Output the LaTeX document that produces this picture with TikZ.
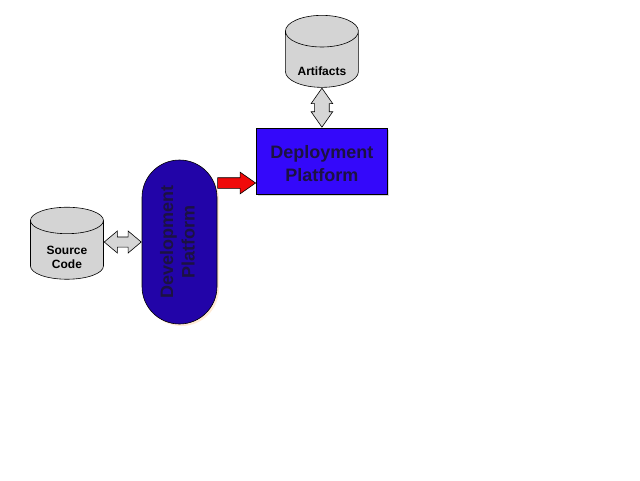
\documentclass[tikz,border=0pt]{standalone}
\usepackage{fontspec}
\setmainfont{Liberation Sans}
\usepackage{xcolor}
\usepackage{tikz}
\usetikzlibrary{shapes.geometric, shapes.arrows, positioning, shadows}
\definecolor{devblue}{RGB}{34, 4, 168}
\definecolor{deployblue}{RGB}{52, 8, 250}
\definecolor{textnavy}{RGB}{28, 18, 66}
\definecolor{storegray}{RGB}{212, 212, 212}
\definecolor{linkgray}{RGB}{214, 214, 214}
\definecolor{pushred}{RGB}{240, 10, 10}

\begin{document}
\begin{tikzpicture}[
    x=1pt, y=-1pt,
    devbox/.style={rectangle, draw=black, fill=devblue, rounded corners=37.5pt, line width=0.6pt, minimum width=75pt, minimum height=164pt, inner sep=0pt, text=textnavy, font=\fontsize{18}{21.6}\selectfont\bfseries, drop shadow={fill=orange!45, opacity=0.35, shadow xshift=2pt, shadow yshift=-2pt}},
    deploybox/.style={rectangle, draw=black, fill=deployblue, line width=0.6pt, minimum width=131pt, minimum height=66pt, inner sep=0pt, align=center, text=textnavy, font=\fontsize{18}{22.4}\selectfont\bfseries, drop shadow={opacity=0.3, shadow xshift=2pt, shadow yshift=-2pt}},
    store/.style={cylinder, draw=black, fill=storegray, shape border rotate=90, aspect=0.65, line width=0.6pt, minimum width=73pt, minimum height=72pt, inner sep=0pt, align=center, font=\fontsize{12}{13.7}\selectfont\bfseries},
    linkarrow/.style={double arrow, draw=black, fill=linkgray, line width=0.6pt, inner xsep=0pt, inner ysep=4.75pt, minimum height=37pt, double arrow head extend=6pt, double arrow tip angle=80, double arrow head indent=0pt},
    updown/.style={double arrow, draw=black, fill=linkgray, line width=0.6pt, inner xsep=0pt, inner ysep=7pt, minimum height=39pt, double arrow head extend=3.5pt, double arrow tip angle=70, double arrow head indent=0pt},
    pusharrow/.style={single arrow, draw=black, fill=pushred, line width=0.6pt, inner xsep=0pt, inner ysep=5pt, minimum height=38pt, single arrow head extend=5.5pt, single arrow tip angle=70, single arrow head indent=0pt}
]
    \useasboundingbox[fill=white] (0,0) rectangle (640,480);

    % Nodes
    \node[devbox] (dev) at (179.5,242) {\rotatebox{90}{\begin{tabular}{@{}c@{}}Development\\Platform\end{tabular}}};
    \node[linkarrow, left=0pt of dev] (srclink) {};
    \node[store, left=0pt of srclink, yshift=-8pt] (src) {\raisebox{-12pt}[0pt][0pt]{\begin{tabular}{@{}c@{}}Source\\Code\end{tabular}}};
    \node[pusharrow, right=0pt of dev, yshift=59pt] (push) {};
    \node[deploybox, right=0pt of push, yshift=22pt] (deploy) {\raisebox{-8.8pt}[0pt][0pt]{\begin{tabular}{@{}c@{}}Deployment\\Platform\end{tabular}}};
    \node[updown, rotate=90, anchor=west] (artlink) at (deploy.north) {};
    \node[store, anchor=south] (art) at (artlink.east) {\raisebox{-15.8pt}[0pt][0pt]{Artifacts}};
\end{tikzpicture}
\end{document}
